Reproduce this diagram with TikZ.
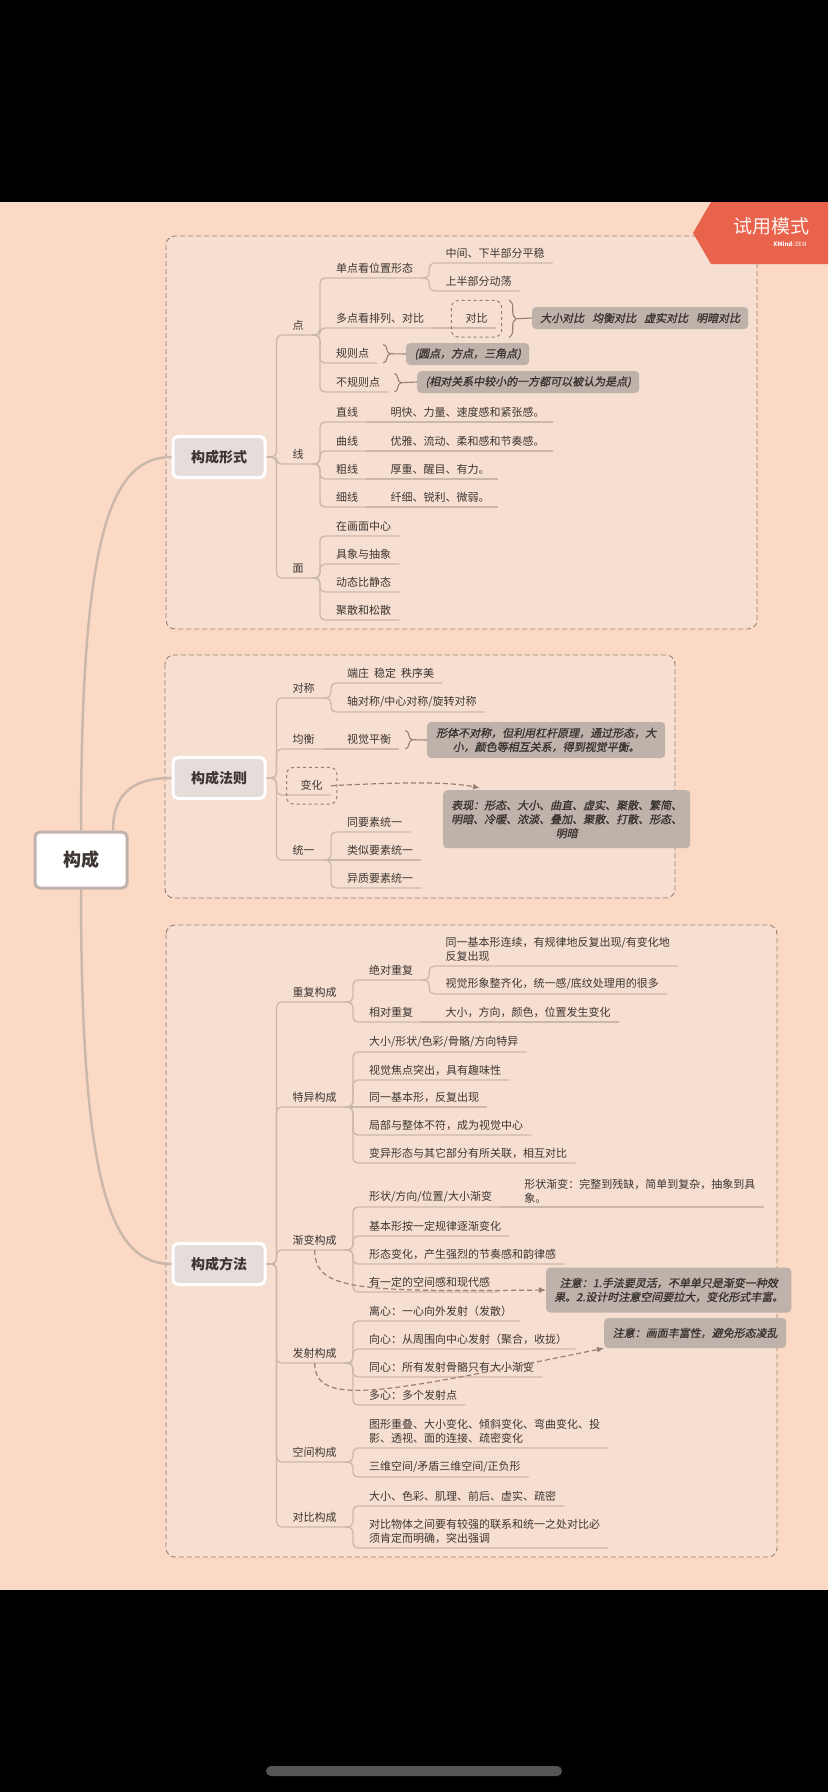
\documentclass[tikz,border=0pt]{standalone}
\usepackage{fontspec}
\setmainfont{Noto Sans CJK SC}
\newfontfamily\notefont[FakeSlant=0.2,FakeBold=1.2]{Noto Sans CJK SC}
\usetikzlibrary{fit,decorations.pathreplacing,arrows.meta}

\definecolor{pagebg}{RGB}{252,217,196}
\definecolor{panelbg}{RGB}{246,222,209}
\definecolor{panelline}{RGB}{150,128,116}
\definecolor{linec}{RGB}{204,184,170}
\definecolor{txtc}{RGB}{62,54,50}
\definecolor{notebg}{RGB}{190,178,170}
\definecolor{notetxt}{RGB}{58,52,48}
\definecolor{topicbg}{RGB}{228,221,218}
\definecolor{rootline}{RGB}{190,178,172}
\definecolor{arrc}{RGB}{150,128,116}
\definecolor{banner}{RGB}{233,98,75}
\definecolor{homebar}{RGB}{85,85,85}

\begin{document}
\begin{tikzpicture}[x=1pt, y=-1pt, >={Latex[length=7pt,width=6pt]},
    tp/.style={anchor=south west, inner xsep=8pt, inner ysep=4pt, align=left,
      font=\fontsize{11}{14}\selectfont, text=txtc},
    topic/.style={draw=white, line width=3pt, fill=topicbg, rounded corners=5pt,
      minimum width=92pt, minimum height=41pt,
      font=\fontsize{14}{16}\selectfont\bfseries, text=txtc},
    rootbox/.style={draw=rootline, line width=3pt, fill=white, rounded corners=5pt,
      minimum width=92pt, minimum height=56pt,
      font=\fontsize{18}{20}\selectfont\bfseries, text=txtc},
    conn/.style={draw=linec, line width=1.3pt, rounded corners=5pt},
    trunk/.style={draw=linec, line width=2.5pt},
    panel/.style={draw=panelline, fill=panelbg, dash pattern=on 5pt off 3pt,
      line width=0.9pt, rounded corners=9pt},
    note/.style={fill=notebg, rounded corners=4pt, inner xsep=8pt, inner ysep=5pt,
      minimum height=22pt, align=center,
      font=\notefont\fontsize{11}{14}\selectfont, text=notetxt},
    dbox/.style={draw=panelline, dashed, line width=1pt, rounded corners=7pt,
      inner xsep=6pt, inner ysep=9pt},
    brc/.style={draw=arrc, line width=1.1pt, decorate, decoration={brace, amplitude=7pt}},
    tail/.style={draw=arrc, line width=1.1pt},
    dasharr/.style={draw=arrc, dash pattern=on 5pt off 3pt, line width=1.2pt, ->}]

  % 画布：上下黑边与底色
  \useasboundingbox (0,0) rectangle (828,1792);
  \fill[black] (0,0) rectangle (828,1792);
  \fill[pagebg] (0,202) rectangle (828,1590);
  \fill[homebar, rounded corners=5pt] (266,1766) rectangle (562,1776);

  % 三个虚线分区
  \draw[panel] (166,236) rectangle (757,629);
  \draw[panel] (165,655) rectangle (675,898);
  \draw[panel] (166,925) rectangle (777,1557);

  % 右上角试用标记
  \fill[banner] (828,202) -- (711,202) -- (693,233) -- (711,264) -- (828,264) -- cycle;
  \node[font=\fontsize{19}{20}\selectfont, text=white!92!banner] (sy) at (771,226) {试用模式};
  \node[font=\fontsize{6}{7}\selectfont\bfseries, text=white] (xm) at (790,244)
    {XMind\textcolor{white!60!banner}{:ZEN}};

  % 中心主题与三个分支
  \node[rootbox] (gc) at (81,860) {构成};
  \node[topic] (xs) at (219,457) {构成形式};
  \node[topic] (fz) at (219,778) {构成法则};
  \node[topic] (ff) at (219,1264) {构成方法};
  \draw[trunk] (gc.north) .. controls +(0,-300) and +(-60,0) .. (xs.west);
  \draw[trunk] ([xshift=32pt]gc.north) .. controls +(0,-40) and +(-35,0) .. (fz.west);
  \draw[trunk] (gc.south) .. controls +(0,300) and +(-60,0) .. (ff.west);

  % ---------- 构成形式 ----------
  \node[tp] (dian) at ([xshift=18pt]xs.east |- 0,335) {点};
  \node[tp] (xian) at ([xshift=18pt]xs.east |- 0,464) {线};
  \node[tp] (mian) at ([xshift=18pt]xs.east |- 0,578) {面};
  \foreach \nd in {dian,xian,mian}
    \draw[conn] (xs.east) -- ++(10,0) |- (\nd.south east);

  % 点
  \node[tp] (dd1) at ([xshift=16pt]dian.south east |- 0,278) {单点看位置形态};
  \node[tp] (dd2) at ([xshift=16pt]dian.south east |- 0,328) {多点看排列、对比};
  \node[tp] (gz) at ([xshift=16pt]dian.south east |- 0,363) {规则点};
  \node[tp] (bgz) at ([xshift=16pt]dian.south east |- 0,392) {不规则点};
  \foreach \nd in {dd1,dd2,gz,bgz}
    \draw[conn] (dian.south east) -- ++(8,0) |- (\nd.south east);
  \node[tp] (wz1) at ([xshift=16pt]dd1.south east |- 0,263) {中间、下半部分平稳};
  \node[tp] (wz2) at ([xshift=16pt]dd1.south east |- 0,291) {上半部分动荡};
  \foreach \nd in {wz1,wz2}
    \draw[conn] (dd1.south east) -- ++(8,0) |- (\nd.south east);
  \node[tp] (dbk) at ([xshift=25pt]dd2.south east |- 0,328) {对比};
  \draw[conn] (dd2.south east) -- (dbk.south east);
  \node[dbox, fit=(dbk)] (dbkb) {};
  \node[note, anchor=west, minimum width=216pt] (ndb) at (532,318)
    {大小对比\hspace{8pt}均衡对比\hspace{8pt}虚实对比\hspace{8pt}明暗对比};
  \draw[brc] ([xshift=7pt]dbkb.north east) -- ([xshift=7pt]dbkb.south east);
  \draw[tail] ([xshift=15pt]dbkb.east) -- (ndb.west);
  \node[note, anchor=west, minimum width=123pt] (ngz) at (406,354) {(圆点，方点，三角点)};
  \draw[brc] ([xshift=6pt]gz.north east) -- ([xshift=6pt]gz.south east);
  \draw[tail] ([xshift=13pt]gz.east) -- (ngz.west);
  \node[note, anchor=west, minimum width=222pt] (nbgz) at (417,382)
    {(相对关系中较小的一方都可以被认为是点)};
  \draw[brc] ([xshift=6pt]bgz.north east) -- ([xshift=6pt]bgz.south east);
  \draw[tail] ([xshift=13pt]bgz.east) -- (nbgz.west);

  % 线
  \node[tp] (zx) at ([xshift=16pt]xian.south east |- 0,422) {直线};
  \node[tp] (qx) at ([xshift=16pt]xian.south east |- 0,451) {曲线};
  \node[tp] (cx) at ([xshift=16pt]xian.south east |- 0,479) {粗线};
  \node[tp] (xx) at ([xshift=16pt]xian.south east |- 0,507) {细线};
  \foreach \nd in {zx,qx,cx,xx}
    \draw[conn] (xian.south east) -- ++(8,0) |- (\nd.south east);
  \node[tp] (zx1) at ([xshift=16pt]zx.south east |- 0,422) {明快、力量、速度感和紧张感。};
  \node[tp] (qx1) at ([xshift=16pt]qx.south east |- 0,451) {优雅、流动、柔和感和节奏感。};
  \node[tp] (cx1) at ([xshift=16pt]cx.south east |- 0,479) {厚重、醒目、有力。};
  \node[tp] (xx1) at ([xshift=16pt]xx.south east |- 0,507) {纤细、锐利、微弱。};
  \foreach \pa/\ch in {zx/zx1,qx/qx1,cx/cx1,xx/xx1}
    \draw[conn] (\pa.south east) -- (\ch.south east);

  % 面
  \node[tp] (m1) at ([xshift=16pt]mian.south east |- 0,536) {在画面中心};
  \node[tp] (m2) at ([xshift=16pt]mian.south east |- 0,564) {具象与抽象};
  \node[tp] (m3) at ([xshift=16pt]mian.south east |- 0,592) {动态比静态};
  \node[tp] (m4) at ([xshift=16pt]mian.south east |- 0,620) {聚散和松散};
  \foreach \nd in {m1,m2,m3,m4}
    \draw[conn] (mian.south east) -- ++(8,0) |- (\nd.south east);

  % ---------- 构成法则 ----------
  \node[tp] (dc) at ([xshift=18pt]fz.east |- 0,698) {对称};
  \node[tp] (jh) at ([xshift=18pt]fz.east |- 0,749) {均衡};
  \node[tp] (bh) at ([xshift=26pt]fz.east |- 0,795) {变化};
  \node[tp] (ty) at ([xshift=18pt]fz.east |- 0,860) {统一};
  \foreach \nd in {dc,jh,bh,ty}
    \draw[conn] (fz.east) -- ++(10,0) |- (\nd.south east);
  \node[tp] (dc1) at ([xshift=16pt]dc.south east |- 0,683) {端庄\hspace{5pt}稳定\hspace{5pt}秩序美};
  \node[tp] (dc2) at ([xshift=16pt]dc.south east |- 0,712) {轴对称/中心对称/旋转对称};
  \foreach \nd in {dc1,dc2}
    \draw[conn] (dc.south east) -- ++(8,0) |- (\nd.south east);
  \node[tp] (jh1) at ([xshift=16pt]jh.south east |- 0,749) {视觉平衡};
  \draw[conn] (jh.south east) -- (jh1.south east);
  \node[note, anchor=west, minimum width=238pt, minimum height=36pt] (nsj) at (427,740)
    {形体不对称，但利用杠杆原理，通过形态，大\\小，颜色等相互关系，得到视觉平衡。};
  \draw[brc] ([xshift=6pt]jh1.north east) -- ([xshift=6pt]jh1.south east);
  \draw[tail] ([xshift=13pt]jh1.east) -- (nsj.west);
  \node[dbox, fit=(bh)] (bhb) {};
  \node[note, anchor=north west, minimum width=246pt, minimum height=58pt] (nbx) at (443,790)
    {表现：形态、大小、曲直、虚实、聚散、繁简、\\明暗、冷暖、浓淡、叠加、聚散、打散、形态、\\明暗};
  \draw[dasharr] (bh.east) .. controls +(80,-4) and +(-30,-6) .. ([shift={(37,-2)}]nbx.north west);
  \node[tp] (ty1) at ([xshift=16pt]ty.south east |- 0,832) {同要素统一};
  \node[tp] (ty2) at ([xshift=16pt]ty.south east |- 0,860) {类似要素统一};
  \node[tp] (ty3) at ([xshift=16pt]ty.south east |- 0,888) {异质要素统一};
  \foreach \nd in {ty1,ty3}
    \draw[conn] (ty.south east) -- ++(8,0) |- (\nd.south east);
  \draw[conn] (ty.south east) -- (ty2.south east);

  % ---------- 构成方法 ----------
  \node[tp] (cf) at ([xshift=18pt]ff.east |- 0,1002) {重复构成};
  \node[tp] (tyc) at ([xshift=18pt]ff.east |- 0,1107) {特异构成};
  \node[tp] (jb) at ([xshift=18pt]ff.east |- 0,1250) {渐变构成};
  \node[tp] (fs) at ([xshift=18pt]ff.east |- 0,1363) {发射构成};
  \node[tp] (kj) at ([xshift=18pt]ff.east |- 0,1462) {空间构成};
  \node[tp] (dbg) at ([xshift=18pt]ff.east |- 0,1527) {对比构成};
  \foreach \nd in {cf,tyc,jb,fs,kj,dbg}
    \draw[conn] (ff.east) -- ++(10,0) |- (\nd.south east);

  % 重复构成
  \node[tp] (cf1) at ([xshift=16pt]cf.south east |- 0,980) {绝对重复};
  \node[tp] (cf2) at ([xshift=16pt]cf.south east |- 0,1022) {相对重复};
  \foreach \nd in {cf1,cf2}
    \draw[conn] (cf.south east) -- ++(8,0) |- (\nd.south east);
  \node[tp] (cf11) at ([xshift=16pt]cf1.south east |- 0,966)
    {同一基本形连续，有规律地反复出现/有变化地\\反复出现};
  \node[tp] (cf12) at ([xshift=16pt]cf1.south east |- 0,994) {视觉形象整齐化，统一感/底纹处理用的很多};
  \foreach \nd in {cf11,cf12}
    \draw[conn] (cf1.south east) -- ++(8,0) |- (\nd.south east);
  \node[tp] (cf21) at ([xshift=16pt]cf2.south east |- 0,1022) {大小，方向，颜色，位置发生变化};
  \draw[conn] (cf2.south east) -- (cf21.south east);

  % 特异构成
  \node[tp] (tyc1) at ([xshift=16pt]tyc.south east |- 0,1052) {大小/形状/色彩/骨骼/方向特异};
  \node[tp] (tyc2) at ([xshift=16pt]tyc.south east |- 0,1080) {视觉焦点突出，具有趣味性};
  \node[tp] (tyc3) at ([xshift=16pt]tyc.south east |- 0,1107) {同一基本形，反复出现};
  \node[tp] (tyc4) at ([xshift=16pt]tyc.south east |- 0,1135) {局部与整体不符，成为视觉中心};
  \node[tp] (tyc5) at ([xshift=16pt]tyc.south east |- 0,1163) {变异形态与其它部分有所关联，相互对比};
  \foreach \nd in {tyc1,tyc2,tyc4,tyc5}
    \draw[conn] (tyc.south east) -- ++(8,0) |- (\nd.south east);
  \draw[conn] (tyc.south east) -- (tyc3.south east);

  % 渐变构成
  \node[tp] (jb1) at ([xshift=16pt]jb.south east |- 0,1207) {形状/方向/位置/大小渐变};
  \node[tp] (jb2) at ([xshift=16pt]jb.south east |- 0,1236) {基本形按一定规律逐渐变化};
  \node[tp] (jb3) at ([xshift=16pt]jb.south east |- 0,1264) {形态变化，产生强烈的节奏感和韵律感};
  \node[tp] (jb4) at ([xshift=16pt]jb.south east |- 0,1292) {有一定的空间感和现代感};
  \foreach \nd in {jb1,jb2,jb3,jb4}
    \draw[conn] (jb.south east) -- ++(8,0) |- (\nd.south east);
  \node[tp] (jb11) at ([xshift=16pt]jb1.south east |- 0,1207)
    {形状渐变：完整到残缺，简单到复杂，抽象到具\\象。};
  \draw[conn] (jb1.south east) -- (jb11.south east);
  \node[note, anchor=west, minimum width=242pt, minimum height=45pt] (nzy1) at (546,1290)
    {注意：1.手法要灵活，不单单只是渐变一种效\\果。2.设计时注意空间要拉大，变化形式丰富。};
  \draw[dasharr] (jb.south) .. controls +(0,40) and +(-190,2) .. (nzy1.west);

  % 发射构成
  \node[tp] (fs1) at ([xshift=16pt]fs.south east |- 0,1321) {离心：一心向外发射（发散）};
  \node[tp] (fs2) at ([xshift=16pt]fs.south east |- 0,1349) {向心：从周围向中心发射（聚合，收拢）};
  \node[tp] (fs3) at ([xshift=16pt]fs.south east |- 0,1377) {同心：所有发射骨骼只有大小渐变};
  \node[tp] (fs4) at ([xshift=16pt]fs.south east |- 0,1405) {多心：多个发射点};
  \foreach \nd in {fs1,fs2,fs3,fs4}
    \draw[conn] (fs.south east) -- ++(8,0) |- (\nd.south east);
  \node[note, anchor=west, minimum width=182pt, minimum height=30pt] (nzy2) at (604,1333)
    {注意：画面丰富性，避免形态凌乱};
  \draw[dasharr] (fs.south) .. controls +(0,45) and +(-220,45) .. (nzy2.south west);

  % 空间构成
  \node[tp] (kj1) at ([xshift=16pt]kj.south east |- 0,1448)
    {图形重叠、大小变化、倾斜变化、弯曲变化、投\\影、透视、面的连接、疏密变化};
  \node[tp] (kj2) at ([xshift=16pt]kj.south east |- 0,1477) {三维空间/矛盾三维空间/正负形};
  \foreach \nd in {kj1,kj2}
    \draw[conn] (kj.south east) -- ++(8,0) |- (\nd.south east);

  % 对比构成
  \node[tp] (dbg1) at ([xshift=16pt]dbg.south east |- 0,1506) {大小、色彩、肌理、前后、虚实、疏密};
  \node[tp] (dbg2) at ([xshift=16pt]dbg.south east |- 0,1548)
    {对比物体之间要有较强的联系和统一之处对比必\\须肯定而明确，突出强调};
  \foreach \nd in {dbg1,dbg2}
    \draw[conn] (dbg.south east) -- ++(8,0) |- (\nd.south east);

\end{tikzpicture}
\end{document}
